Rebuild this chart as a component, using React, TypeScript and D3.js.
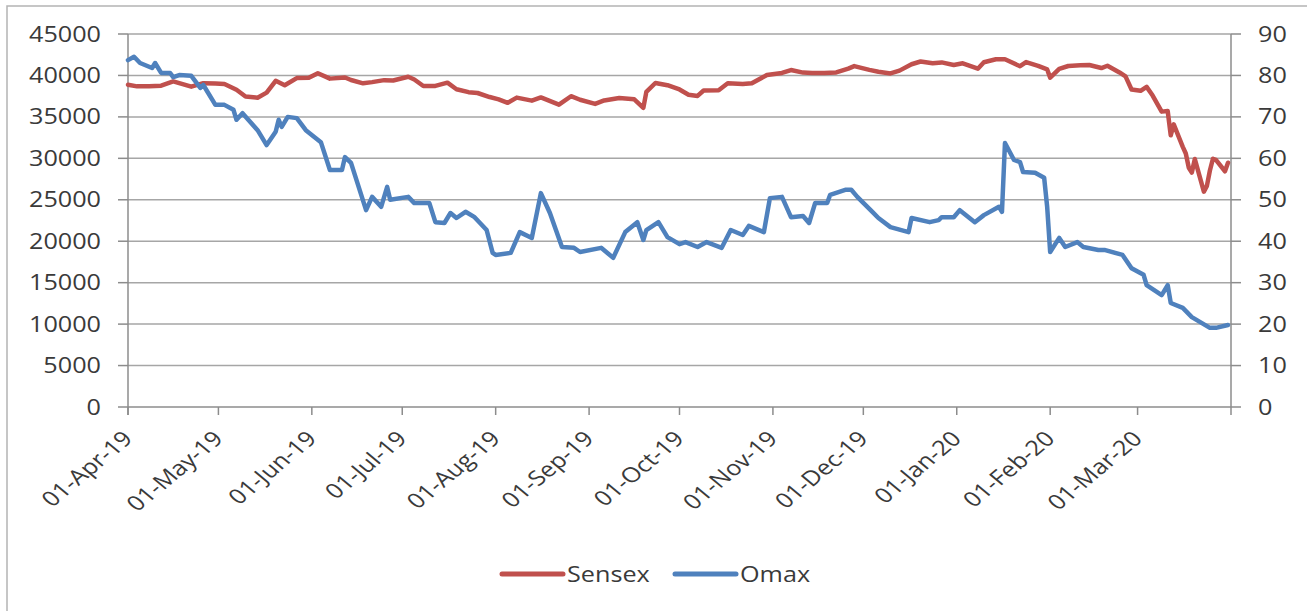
import { useEffect, useRef } from "react";
import * as d3 from "d3";

// Sensex close (left axis)
const sensex: [string, number][] = [
  ["2019-04-01", 38870], ["2019-04-04", 38684], ["2019-04-08", 38700], ["2019-04-12", 38767],
  ["2019-04-16", 39275], ["2019-04-22", 38645], ["2019-04-26", 39067], ["2019-04-30", 39031],
  ["2019-05-03", 38963], ["2019-05-07", 38276], ["2019-05-10", 37463], ["2019-05-14", 37318],
  ["2019-05-17", 37931], ["2019-05-20", 39353], ["2019-05-23", 38811], ["2019-05-27", 39684],
  ["2019-05-31", 39714], ["2019-06-03", 40268], ["2019-06-07", 39616], ["2019-06-12", 39757],
  ["2019-06-14", 39452], ["2019-06-18", 39046], ["2019-06-21", 39194], ["2019-06-25", 39435],
  ["2019-06-28", 39395], ["2019-07-03", 39839], ["2019-07-05", 39513], ["2019-07-08", 38720],
  ["2019-07-12", 38736], ["2019-07-16", 39131], ["2019-07-19", 38337], ["2019-07-23", 37982],
  ["2019-07-26", 37882], ["2019-07-30", 37397], ["2019-08-02", 37118], ["2019-08-05", 36699],
  ["2019-08-08", 37327], ["2019-08-13", 36958], ["2019-08-16", 37350], ["2019-08-22", 36472],
  ["2019-08-26", 37494], ["2019-08-29", 37068], ["2019-09-03", 36562], ["2019-09-06", 36982],
  ["2019-09-11", 37271], ["2019-09-16", 37123], ["2019-09-19", 36093], ["2019-09-20", 38015],
  ["2019-09-23", 39090], ["2019-09-27", 38823], ["2019-10-01", 38306], ["2019-10-04", 37673],
  ["2019-10-07", 37531], ["2019-10-09", 38178], ["2019-10-14", 38214], ["2019-10-17", 39052],
  ["2019-10-22", 38964], ["2019-10-25", 39058], ["2019-10-30", 40051], ["2019-11-04", 40301],
  ["2019-11-07", 40654], ["2019-11-11", 40345], ["2019-11-14", 40286], ["2019-11-18", 40284],
  ["2019-11-22", 40359], ["2019-11-26", 40821], ["2019-11-28", 41130], ["2019-12-03", 40675],
  ["2019-12-06", 40445], ["2019-12-10", 40240], ["2019-12-13", 40581], ["2019-12-17", 41352],
  ["2019-12-20", 41681], ["2019-12-24", 41461], ["2019-12-27", 41575], ["2019-12-31", 41254],
  ["2020-01-03", 41464], ["2020-01-08", 40817], ["2020-01-10", 41599], ["2020-01-14", 41952],
  ["2020-01-17", 41945], ["2020-01-22", 41115], ["2020-01-24", 41613], ["2020-01-28", 41155],
  ["2020-01-31", 40723], ["2020-02-01", 39736], ["2020-02-04", 40789], ["2020-02-07", 41141],
  ["2020-02-11", 41216], ["2020-02-14", 41257], ["2020-02-18", 40894], ["2020-02-20", 41170],
  ["2020-02-24", 40363], ["2020-02-26", 39888], ["2020-02-28", 38297], ["2020-03-02", 38144],
  ["2020-03-04", 38623], ["2020-03-06", 37577], ["2020-03-09", 35635], ["2020-03-11", 35697],
  ["2020-03-12", 32778], ["2020-03-13", 34103], ["2020-03-16", 31390], ["2020-03-17", 30579],
  ["2020-03-18", 28869], ["2020-03-19", 28288], ["2020-03-20", 29916], ["2020-03-23", 25981],
  ["2020-03-24", 26674], ["2020-03-25", 28536], ["2020-03-26", 29947], ["2020-03-27", 29816],
  ["2020-03-30", 28440], ["2020-03-31", 29468],
];

// Omax share price (right axis)
const omax: [string, number][] = [
  ["2019-04-01", 83.7], ["2019-04-03", 84.5], ["2019-04-05", 83.0], ["2019-04-09", 81.8],
  ["2019-04-10", 83.0], ["2019-04-12", 80.6], ["2019-04-15", 80.6], ["2019-04-16", 79.6],
  ["2019-04-18", 80.1], ["2019-04-22", 79.9], ["2019-04-25", 77.0], ["2019-04-26", 77.7],
  ["2019-04-30", 72.9], ["2019-05-03", 72.9], ["2019-05-06", 71.7], ["2019-05-07", 69.3],
  ["2019-05-09", 70.9], ["2019-05-14", 66.8], ["2019-05-17", 63.2], ["2019-05-20", 66.4],
  ["2019-05-21", 69.3], ["2019-05-22", 67.6], ["2019-05-24", 70.0], ["2019-05-27", 69.7],
  ["2019-05-30", 66.8], ["2019-06-04", 63.9], ["2019-06-07", 57.2], ["2019-06-11", 57.2],
  ["2019-06-12", 60.3], ["2019-06-14", 58.9], ["2019-06-19", 47.5], ["2019-06-21", 50.7],
  ["2019-06-24", 48.3], ["2019-06-26", 53.1], ["2019-06-27", 50.0], ["2019-07-03", 50.7],
  ["2019-07-05", 49.2], ["2019-07-10", 49.2], ["2019-07-12", 44.6], ["2019-07-15", 44.4],
  ["2019-07-17", 46.8], ["2019-07-19", 45.6], ["2019-07-22", 47.1], ["2019-07-25", 45.8],
  ["2019-07-29", 42.7], ["2019-07-31", 37.2], ["2019-08-01", 36.7], ["2019-08-06", 37.2],
  ["2019-08-09", 42.2], ["2019-08-13", 40.8], ["2019-08-16", 51.6], ["2019-08-19", 46.8],
  ["2019-08-21", 42.7], ["2019-08-23", 38.6], ["2019-08-27", 38.4], ["2019-08-29", 37.4],
  ["2019-09-05", 38.4], ["2019-09-09", 36.0], ["2019-09-13", 42.2], ["2019-09-17", 44.6],
  ["2019-09-19", 40.3], ["2019-09-20", 42.7], ["2019-09-24", 44.6], ["2019-09-27", 41.0],
  ["2019-10-01", 39.3], ["2019-10-03", 39.8], ["2019-10-07", 38.6], ["2019-10-10", 39.8],
  ["2019-10-15", 38.4], ["2019-10-18", 42.7], ["2019-10-22", 41.5], ["2019-10-24", 43.7],
  ["2019-10-29", 42.2], ["2019-10-31", 50.4], ["2019-11-04", 50.7], ["2019-11-07", 45.8],
  ["2019-11-11", 46.1], ["2019-11-13", 44.4], ["2019-11-15", 49.2], ["2019-11-19", 49.2],
  ["2019-11-20", 51.2], ["2019-11-25", 52.4], ["2019-11-27", 52.4], ["2019-11-29", 50.7],
  ["2019-12-04", 47.1], ["2019-12-06", 45.6], ["2019-12-10", 43.4], ["2019-12-16", 42.2],
  ["2019-12-17", 45.6], ["2019-12-23", 44.6], ["2019-12-26", 45.1], ["2019-12-27", 45.8],
  ["2019-12-31", 45.8], ["2020-01-02", 47.5], ["2020-01-07", 44.6], ["2020-01-10", 46.3],
  ["2020-01-15", 48.3], ["2020-01-16", 47.1], ["2020-01-17", 63.7], ["2020-01-20", 59.6],
  ["2020-01-22", 59.1], ["2020-01-23", 56.7], ["2020-01-27", 56.5], ["2020-01-30", 55.3],
  ["2020-01-31", 48.3], ["2020-02-01", 37.4], ["2020-02-04", 40.8], ["2020-02-06", 38.6],
  ["2020-02-10", 39.8], ["2020-02-12", 38.6], ["2020-02-17", 37.9], ["2020-02-19", 37.9],
  ["2020-02-25", 36.7], ["2020-02-28", 33.5], ["2020-03-03", 31.9], ["2020-03-04", 29.4],
  ["2020-03-09", 27.0], ["2020-03-11", 29.4], ["2020-03-12", 25.1], ["2020-03-16", 23.9],
  ["2020-03-19", 21.7], ["2020-03-25", 19.1], ["2020-03-27", 19.1], ["2020-03-31", 19.8],
];

const leftTicks = [0, 5000, 10000, 15000, 20000, 25000, 30000, 35000, 40000, 45000];
const rightTicks = [0, 10, 20, 30, 40, 50, 60, 70, 80, 90];
const monthTicks = [
  "2019-04-01", "2019-05-01", "2019-06-01", "2019-07-01", "2019-08-01", "2019-09-01",
  "2019-10-01", "2019-11-01", "2019-12-01", "2020-01-01", "2020-02-01", "2020-03-01",
];
const seriesNames = ["Sensex", "Omax"];

const parse = d3.timeParse("%Y-%m-%d");

const App = () => {
  const chartRef = useRef<SVGSVGElement>(null);

  useEffect(() => {
    const plotLeft = 128;
    const plotRight = 1231;
    const plotTop = 34;
    const plotBottom = 407;
    const sx = 1.2; // glyphs are wide in the reference
    const font = "'Open Sans', 'Noto Sans', sans-serif";
    const fontSize = 21;
    const textColor = "#3a3a3a";
    const gridColor = "#a6a6a6";
    const axisColor = "#8c8c8c";
    const red = "#C0504D";
    const blue = "#4F81BD";

    const svg = d3.select(chartRef.current);
    svg.selectAll("*").remove();

    const x = d3
      .scaleTime()
      .domain([new Date(2019, 3, 1), new Date(2020, 3, 1)])
      .range([plotLeft, plotRight]);
    const yLeft = d3.scaleLinear().domain([0, 45000]).range([plotBottom, plotTop]);
    const yRight = d3.scaleLinear().domain([0, 90]).range([plotBottom, plotTop]);

    svg
      .append("rect")
      .attr("x", 7)
      .attr("y", 6)
      .attr("width", 1320)
      .attr("height", 640)
      .attr("fill", "white")
      .attr("stroke", "#b4b4b4")
      .attr("stroke-width", 1.5);

    // gridlines
    svg
      .append("g")
      .selectAll("line")
      .data(leftTicks.filter((d) => d > 0))
      .join("line")
      .attr("x1", plotLeft)
      .attr("x2", plotRight)
      .attr("y1", (d) => yLeft(d))
      .attr("y2", (d) => yLeft(d))
      .attr("stroke", gridColor)
      .attr("stroke-width", 1.5);

    // axes lines
    const axes = svg.append("g").attr("stroke", axisColor).attr("stroke-width", 1.5);
    axes.append("line").attr("x1", plotLeft).attr("x2", plotLeft).attr("y1", plotTop).attr("y2", plotBottom + 8);
    axes.append("line").attr("x1", plotRight).attr("x2", plotRight).attr("y1", plotTop).attr("y2", plotBottom + 8);
    axes.append("line").attr("x1", plotLeft).attr("x2", plotRight).attr("y1", plotBottom).attr("y2", plotBottom);

    axes
      .selectAll(".lt")
      .data(leftTicks)
      .join("line")
      .attr("x1", plotLeft - 10)
      .attr("x2", plotLeft)
      .attr("y1", (d) => yLeft(d))
      .attr("y2", (d) => yLeft(d));
    axes
      .selectAll(".rt")
      .data(rightTicks)
      .join("line")
      .attr("x1", plotRight)
      .attr("x2", plotRight + 10)
      .attr("y1", (d) => yRight(d))
      .attr("y2", (d) => yRight(d));
    axes
      .selectAll(".bt")
      .data(monthTicks.map((d) => parse(d)!))
      .join("line")
      .attr("x1", (d) => x(d))
      .attr("x2", (d) => x(d))
      .attr("y1", plotBottom)
      .attr("y2", plotBottom + 8);

    // tick labels
    const labels = svg
      .append("g")
      .attr("font-family", font)
      .attr("font-size", fontSize)
      .attr("fill", textColor);

    labels
      .selectAll(".yl")
      .data(leftTicks)
      .join("text")
      .attr("transform", (d) => `translate(101,${yLeft(d)}) scale(${sx},1)`)
      .attr("text-anchor", "end")
      .attr("dy", "0.36em")
      .text((d) => String(d));

    labels
      .selectAll(".yr")
      .data(rightTicks)
      .join("text")
      .attr("transform", (d) => `translate(1258,${yRight(d)}) scale(${sx},1)`)
      .attr("text-anchor", "start")
      .attr("dy", "0.36em")
      .text((d) => String(d));

    const fmt = d3.timeFormat("%d-%b-%y");
    labels
      .selectAll(".xl")
      .data(monthTicks.map((d) => parse(d)!))
      .join("text")
      .attr("transform", (d) => `translate(${x(d) + 6},440) scale(${sx},1) rotate(-45)`)
      .attr("text-anchor", "end")
      .text((d) => fmt(d));

    // series
    const lineLeft = d3
      .line<[string, number]>()
      .x((d) => x(parse(d[0])!))
      .y((d) => yLeft(d[1]));
    const lineRight = d3
      .line<[string, number]>()
      .x((d) => x(parse(d[0])!))
      .y((d) => yRight(d[1]));

    svg
      .append("path")
      .datum(sensex)
      .attr("d", lineLeft)
      .attr("fill", "none")
      .attr("stroke", red)
      .attr("stroke-width", 4.5)
      .attr("stroke-linejoin", "round")
      .attr("stroke-linecap", "round");

    svg
      .append("path")
      .datum(omax)
      .attr("d", lineRight)
      .attr("fill", "none")
      .attr("stroke", blue)
      .attr("stroke-width", 4.5)
      .attr("stroke-linejoin", "round")
      .attr("stroke-linecap", "round");

    // legend
    const legendItems = [
      { name: seriesNames[0], color: red, x0: 502 },
      { name: seriesNames[1], color: blue, x0: 675 },
    ];
    const legend = svg.append("g");
    legend
      .selectAll("line")
      .data(legendItems)
      .join("line")
      .attr("x1", (d) => d.x0)
      .attr("x2", (d) => d.x0 + 61)
      .attr("y1", 574)
      .attr("y2", 574)
      .attr("stroke", (d) => d.color)
      .attr("stroke-width", 5)
      .attr("stroke-linecap", "round");
    legend
      .selectAll("text")
      .data(legendItems)
      .join("text")
      .attr("transform", (d) => `translate(${d.x0 + 65},574) scale(${sx},1)`)
      .attr("dy", "0.36em")
      .attr("font-family", font)
      .attr("font-size", fontSize)
      .attr("fill", textColor)
      .text((d) => d.name);
  }, []);

  return (
    <svg
      ref={chartRef}
      width={1307}
      height={611}
      style={{ position: "absolute", left: 0, top: 0, display: "block" }}
    />
  );
};

export default App;
